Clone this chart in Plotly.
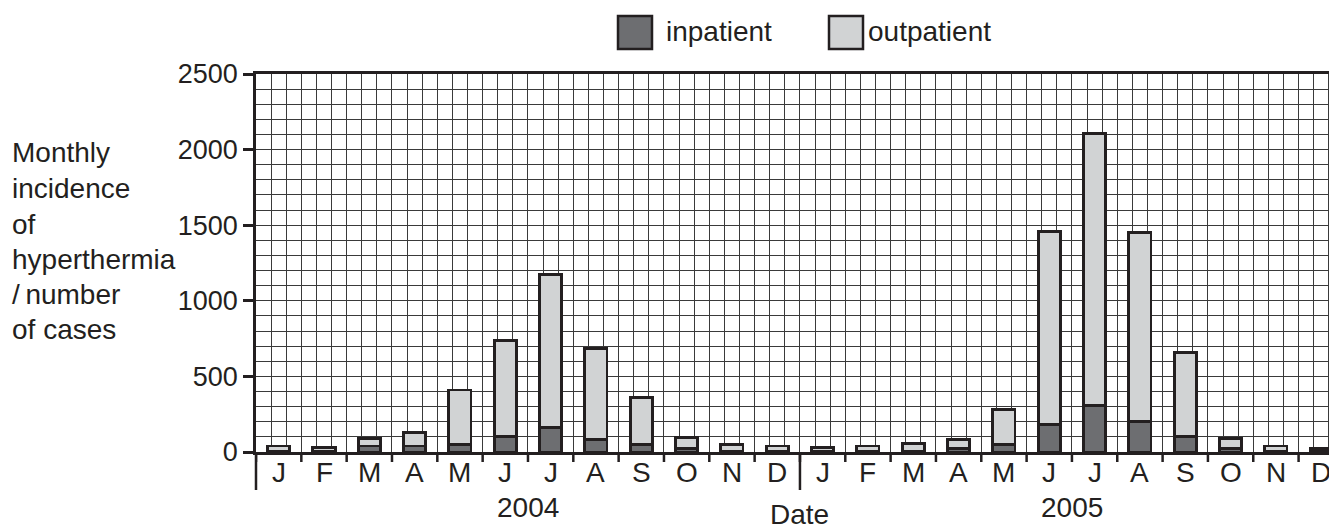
import plotly.graph_objects as go

# ---- data ----
month_labels = ["J", "F", "M", "A", "M", "J", "J", "A", "S", "O", "N", "D",
                "J", "F", "M", "A", "M", "J", "J", "A", "S", "O", "N", "D"]
inpatient = [3, 3, 40, 40, 50, 105, 160, 85, 50, 25, 3, 3,
             3, 3, 3, 25, 50, 180, 310, 200, 100, 25, 3, 3]
outpatient = [37, 27, 50, 90, 360, 630, 1015, 600, 310, 70, 47, 37,
              27, 37, 52, 60, 230, 1280, 1795, 1250, 560, 65, 37, 22]
years = ["2004", "2005"]
y_ticks = [0, 500, 1000, 1500, 2000, 2500]
y_title_lines = ["Monthly", "incidence", "of", "hyperthermia", "/\u2009number", "of cases"]

# ---- style ----
OFF = 8                      # page body margin in the browser
W, H = 1337 - OFF, 532 - OFF
ML, MR, MT = 256 - OFF, 0, 74 - OFF
PW = W - ML - MR
PH = 378
MB = H - MT - PH
INK = "#231f20"
DARK = "#6d6e71"
LIGHT = "#d1d3d4"
FONT = "Liberation Sans, Arial, Helvetica, sans-serif"
MONTH_PX = 45.33

def px_x(px):
    return (px - OFF - ML) / PW

def px_y(py):
    return (MT + PH - (py - OFF)) / PH

xs = list(range(len(month_labels)))
x_max = -0.5 + PW / MONTH_PX

fig = go.Figure()
fig.add_trace(go.Bar(x=xs, y=inpatient, name="inpatient", width=0.49,
                     marker=dict(color=DARK, line=dict(color=INK, width=2.8))))
fig.add_trace(go.Bar(x=xs, y=outpatient, name="outpatient", width=0.49,
                     marker=dict(color=LIGHT, line=dict(color=INK, width=2.8))))

grid_col = "#3a3a3a"
fig.update_layout(
    width=W, height=H, barmode="stack", showlegend=False,
    margin=dict(l=ML, r=MR, t=MT, b=MB),
    plot_bgcolor="white", paper_bgcolor="white",
    font=dict(family=FONT, size=28, color=INK),
    xaxis=dict(range=[-0.5, x_max], tickmode="array", tickvals=xs, ticktext=[""] * len(xs),
               ticks="", showgrid=False, zeroline=False,
               showline=True, linecolor=INK, linewidth=2.5, mirror=True,
               minor=dict(tick0=-0.5, dtick=1 / 3, showgrid=True, gridcolor=grid_col, gridwidth=1.2)),
    yaxis=dict(range=[0, 2500], tickmode="array", tickvals=y_ticks,
               ticks="outside", ticklen=10, tickwidth=2.5, tickcolor=INK,
               tickfont=dict(size=27, color=INK, family=FONT),
               showgrid=True, gridcolor=grid_col, gridwidth=1.2, zeroline=False,
               showline=True, linecolor=INK, linewidth=2.5,
               minor=dict(dtick=100, tick0=0, showgrid=True, gridcolor=grid_col, gridwidth=1.2)),
)

shapes = []
# month boundary ticks
for k in range(len(xs) + 1):
    shapes.append(dict(type="line", xref="x", yref="paper", x0=k - 0.5, x1=k - 0.5,
                       y0=0, y1=px_y(74 + PH + 10), line=dict(color=INK, width=2.5)))
# axis extension and year separator
shapes.append(dict(type="line", xref="paper", yref="paper", x0=0, x1=0,
                   y0=0, y1=px_y(490), line=dict(color=INK, width=2.5)))
shapes.append(dict(type="line", xref="x", yref="paper", x0=11.5, x1=11.5,
                   y0=0, y1=px_y(490), line=dict(color=INK, width=2.5)))
# legend swatches
shapes.append(dict(type="rect", xref="paper", yref="paper",
                   x0=px_x(618), x1=px_x(652), y0=px_y(49), y1=px_y(16),
                   fillcolor=DARK, line=dict(color=INK, width=2.5)))
shapes.append(dict(type="rect", xref="paper", yref="paper",
                   x0=px_x(829), x1=px_x(863), y0=px_y(49), y1=px_y(16),
                   fillcolor=LIGHT, line=dict(color=INK, width=2.5)))

ann = []
for i, lab in enumerate(month_labels):
    ann.append(dict(x=i, xref="x", y=px_y(472), yref="paper", text=lab, showarrow=False,
                    xanchor="center", yanchor="middle", font=dict(size=28)))
ann.append(dict(x=5.5, xref="x", y=px_y(507), yref="paper", text=years[0], showarrow=False,
                xanchor="center", yanchor="middle", font=dict(size=28)))
ann.append(dict(x=17.5, xref="x", y=px_y(507), yref="paper", text=years[1], showarrow=False,
                xanchor="center", yanchor="middle", font=dict(size=28)))
ann.append(dict(x=11.5, xref="x", y=px_y(531), yref="paper", text="Date", showarrow=False,
                xanchor="center", yanchor="bottom", borderpad=0, font=dict(size=28)))
y_centers = [152, 188, 224, 259, 294, 329]
for t, yc in zip(y_title_lines, y_centers):
    ann.append(dict(x=px_x(10), xref="paper", y=px_y(yc), yref="paper", text=t, showarrow=False,
                    xanchor="left", yanchor="middle", font=dict(size=28)))
ann.append(dict(x=px_x(664), xref="paper", y=px_y(32), yref="paper", text="inpatient", showarrow=False,
                xanchor="left", yanchor="middle", font=dict(size=28)))
ann.append(dict(x=px_x(866), xref="paper", y=px_y(32), yref="paper", text="outpatient", showarrow=False,
                xanchor="left", yanchor="middle", font=dict(size=28)))

fig.update_layout(shapes=shapes, annotations=ann)
fig.write_html("out.html")
